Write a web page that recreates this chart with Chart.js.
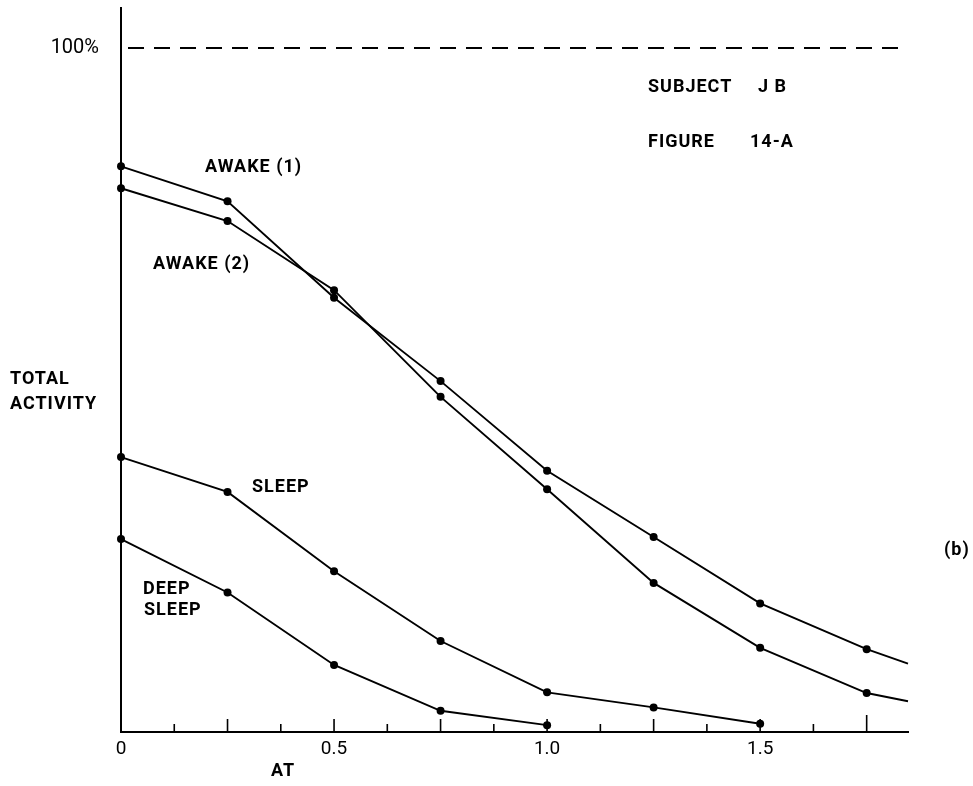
<!DOCTYPE html>
<html>
<head>
<meta charset="utf-8">
<title>Total activity vs AT</title>
<script src="https://cdn.jsdelivr.net/npm/chart.js@4.4.1/dist/chart.umd.min.js"></script>
<style>
  html, body { margin: 0; padding: 0; background: #fff; }
  canvas { display: block; }
</style>
</head>
<body>
<canvas id="chart" width="973" height="786"></canvas>
<script>
// AT values where measurements were taken
const atValues = [0, 0.25, 0.5, 0.75, 1.0, 1.25, 1.5, 1.75];
// end of the AT axis; the two awake curves run on to it
const atEnd = 1.847;

// total activity, percent
const awake1 = [82.7, 77.6, 63.5, 51.3, 38.2, 28.5, 18.8, 12.1];
const awake2 = [79.5, 74.7, 64.6, 49.0, 35.5, 21.8, 12.3, 5.7];
const sleep = [40.2, 35.1, 23.5, 13.3, 5.8, 3.6, 1.2];
const deepSleep = [28.2, 20.4, 9.8, 3.1, 1.0];
// where the awake curves meet the end of the axis
const awake1End = 10.0;
const awake2End = 4.5;

const fullScale = 100;
const xTickLabels = ['0', '0.5', '1.0', '1.5'];

const FONT = 'Roboto, "DejaVu Sans", sans-serif';

function toPoints(values, endValue) {
  const pts = values.map((v, i) => ({ x: atValues[i], y: v }));
  if (endValue !== undefined) pts.push({ x: atEnd, y: endValue });
  return pts;
}

function curve(values, endValue) {
  return {
    data: toPoints(values, endValue),
    borderColor: '#000',
    backgroundColor: '#000',
    borderWidth: 1.9,
    // no marker on the run-out to the axis end
    pointRadius: ctx => (ctx.raw && ctx.raw.x === atEnd ? 0 : 4),
    pointBorderWidth: 0,
    tension: 0,
    clip: false
  };
}

// hand-lettered notes on the figure
const notes = [
  { text: 'SUBJECT', x: 648, y: 87 },
  { text: 'J B', x: 758, y: 87 },
  { text: 'FIGURE', x: 648, y: 142 },
  { text: '14-A', x: 750, y: 142 },
  { text: 'AWAKE (1)', x: 205, y: 167 },
  { text: 'AWAKE (2)', x: 153, y: 264 },
  { text: 'TOTAL', x: 10, y: 379 },
  { text: 'ACTIVITY', x: 10, y: 404 },
  { text: 'SLEEP', x: 252, y: 487 },
  { text: 'DEEP', x: 143, y: 589 },
  { text: 'SLEEP', x: 144, y: 610 },
  { text: '(b)', x: 944, y: 550 },
  { text: 'AT', x: 271, y: 771 }
];

const notesPlugin = {
  id: 'notes',
  afterDraw(chart) {
    const ctx = chart.ctx;
    ctx.save();
    ctx.fillStyle = '#000';
    ctx.font = 'bold 18px ' + FONT;
    ctx.letterSpacing = '1px';
    ctx.textAlign = 'left';
    ctx.textBaseline = 'middle';
    notes.forEach(n => ctx.fillText(n.text, n.x, n.y));
    ctx.restore();
  }
};

// small marks up from the AT axis: every 0.125, taller every 0.25
const axisTicksPlugin = {
  id: 'axisTicks',
  afterDatasetsDraw(chart) {
    const xs = chart.scales.x;
    const bottom = chart.chartArea.bottom;
    const ctx = chart.ctx;
    ctx.save();
    ctx.strokeStyle = '#000';
    ctx.lineWidth = 1.6;
    for (let i = 1; i * 0.125 <= atEnd; i++) {
      const px = xs.getPixelForValue(i * 0.125);
      const len = i % 2 === 0 ? (i === 14 ? 17 : 13) : 8;
      ctx.beginPath();
      ctx.moveTo(px, bottom);
      ctx.lineTo(px, bottom - len);
      ctx.stroke();
    }
    ctx.restore();
  }
};

new Chart(document.getElementById('chart'), {
  type: 'line',
  data: {
    datasets: [
      {
        // 100% reference line
        data: [{ x: 0, y: fullScale }, { x: atEnd, y: fullScale }],
        borderColor: '#000',
        borderWidth: 1.9,
        borderDash: [16, 10],
        borderDashOffset: 19,
        pointRadius: 0
      },
      curve(awake1, awake1End),
      curve(awake2, awake2End),
      curve(sleep),
      curve(deepSleep)
    ]
  },
  options: {
    responsive: false,
    devicePixelRatio: 1,
    animation: false,
    layout: { padding: { top: 8, right: 65, left: 0, bottom: 0 } },
    plugins: {
      legend: { display: false },
      tooltip: { enabled: false }
    },
    scales: {
      x: {
        type: 'linear',
        min: 0,
        max: atEnd,
        afterFit(scale) {
          scale.height = 54;
          scale.paddingLeft = 0;
          scale.paddingRight = 0;
        },
        afterBuildTicks(scale) {
          scale.ticks = xTickLabels.map(t => ({ value: parseFloat(t) }));
        },
        ticks: {
          autoSkip: false,
          maxRotation: 0,
          padding: 6,
          color: '#000',
          font: { family: FONT, size: 19 },
          callback: (v, i) => xTickLabels[i]
        },
        grid: { display: false, drawTicks: false },
        border: { display: true, color: '#000', width: 2 }
      },
      y: {
        min: 0,
        max: 105.85,
        afterFit(scale) {
          scale.width = 121;
          scale.paddingTop = 0;
          scale.paddingBottom = 0;
        },
        afterBuildTicks(scale) {
          scale.ticks = [{ value: fullScale }];
        },
        ticks: {
          padding: 22,
          color: '#000',
          font: { family: FONT, size: 20 },
          callback: () => '100%'
        },
        grid: { display: false, drawTicks: false },
        border: { display: true, color: '#000', width: 2 }
      }
    }
  },
  plugins: [axisTicksPlugin, notesPlugin]
});
</script>
</body>
</html>
